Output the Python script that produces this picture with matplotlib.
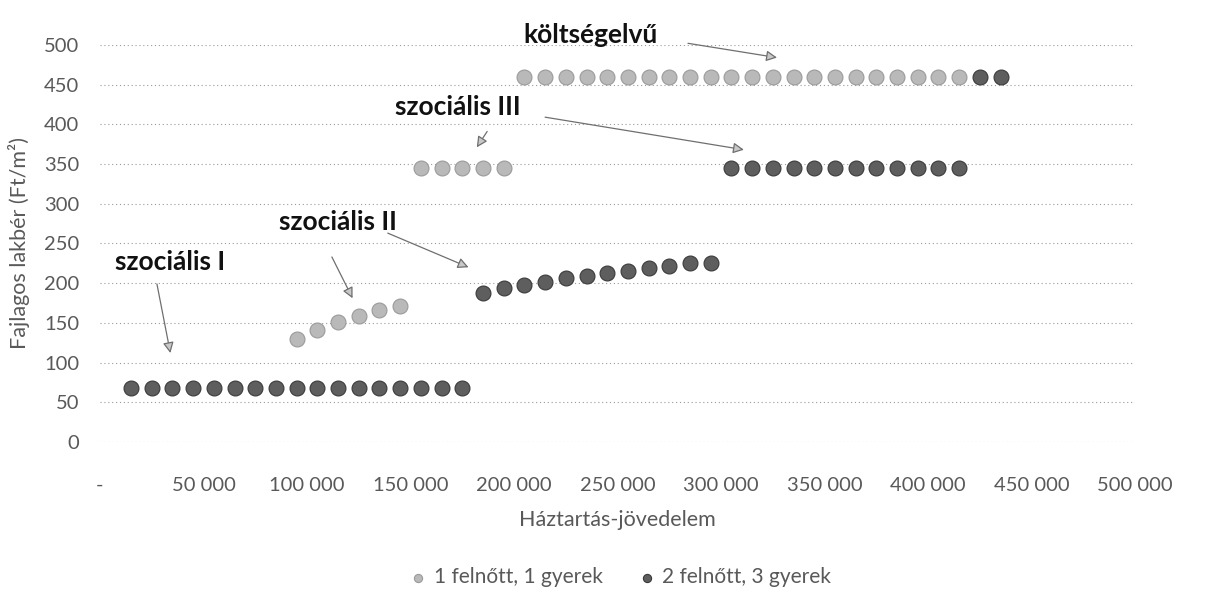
import matplotlib
matplotlib.use("Agg")
import matplotlib.pyplot as plt
from matplotlib.ticker import FuncFormatter

plt.rcParams['font.family'] = ['Lato', 'DejaVu Sans']

# --- adatok (leolvasva az ábráról) ---
series_names = ['1 felnőtt, 1 gyerek', '2 felnőtt, 3 gyerek']

# 1 felnőtt, 1 gyerek
inc_1 = [95000, 105000, 115000, 125000, 135000, 145000,
         155000, 165000, 175000, 185000, 195000,
         205000, 215000, 225000, 235000, 245000, 255000, 265000, 275000,
         285000, 295000, 305000, 315000, 325000, 335000, 345000, 355000,
         365000, 375000, 385000, 395000, 405000, 415000]
rent_1 = [130, 141, 151, 159, 166, 171,
          345, 345, 345, 345, 345,
          460, 460, 460, 460, 460, 460, 460, 460,
          460, 460, 460, 460, 460, 460, 460, 460,
          460, 460, 460, 460, 460, 460]

# 2 felnőtt, 3 gyerek
inc_2 = [15000, 25000, 35000, 45000, 55000, 65000, 75000, 85000, 95000,
         105000, 115000, 125000, 135000, 145000, 155000, 165000, 175000,
         185000, 195000, 205000, 215000, 225000, 235000, 245000, 255000,
         265000, 275000, 285000, 295000,
         305000, 315000, 325000, 335000, 345000, 355000, 365000, 375000,
         385000, 395000, 405000, 415000,
         425000, 435000]
rent_2 = [68, 68, 68, 68, 68, 68, 68, 68, 68,
          68, 68, 68, 68, 68, 68, 68, 68,
          188, 194, 198, 202, 207, 209, 213, 215, 219, 222, 225, 225,
          345, 345, 345, 345, 345, 345, 345, 345,
          345, 345, 345, 345,
          460, 460]

# feliratok: (szöveg, szöveg helye, nyíl kezdete és hegye)
labels = [
    ('költségelvű', (237000, 512), [((284000, 502), (327000, 484))]),
    ('szociális III', (173000, 422), [((187000, 391), (182000, 371)),
                                      ((215000, 409), (311000, 368))]),
    ('szociális II', (115000, 277), [((112000, 233), (122000, 181)),
                                     ((139000, 263), (178000, 220))]),
    ('szociális I', (34000, 227), [((27500, 199), (34000, 112))]),
]

fig = plt.figure(figsize=(12.15, 6.10), dpi=100)
ax = fig.add_axes([0.0823, 0.2754, 0.852, 0.651])

ax.scatter(inc_1, rent_1, s=115, color='#b9b9b9', edgecolor='#9a9a9a',
           linewidth=0.8, label=series_names[0], zorder=3)
ax.scatter(inc_2, rent_2, s=115, color='#5e5e5e', edgecolor='#3a3a3a',
           linewidth=0.8, label=series_names[1], zorder=4)

ax.set_xlim(0, 500000)
ax.set_ylim(0, 500)
ax.set_xticks(range(0, 500001, 50000))
ax.set_yticks(range(0, 501, 50))


def fmt_x(v, pos):
    if v == 0:
        return '-'
    return f'{int(v):,}'.replace(',', ' ')


ax.xaxis.set_major_formatter(FuncFormatter(fmt_x))

ax.grid(axis='y', linestyle=(0, (1, 2.5)), color='#9a9a9a', linewidth=0.8)
ax.set_axisbelow(True)
for sp in ax.spines.values():
    sp.set_visible(False)
ax.tick_params(axis='both', length=0, labelsize=14.5, colors='#595959')
ax.tick_params(axis='y', pad=15)
ax.tick_params(axis='x', pad=25)

ax.set_xlabel('Háztartás-jövedelem', fontsize=15.5, color='#595959', labelpad=12)
ax.set_ylabel('Fajlagos lakbér (Ft/m²)', fontsize=15.5, color='#595959', labelpad=10)

# nyilak és feliratok
for text, pos, arrows in labels:
    ax.text(pos[0], pos[1], text, fontsize=19, fontweight='bold',
            ha='center', va='center', color='#111111', clip_on=False)
    for start, tip in arrows:
        ax.annotate('', xy=tip, xytext=start, annotation_clip=False,
                    arrowprops=dict(arrowstyle='-|>', color='#6f6f6f', lw=0.9,
                                    mutation_scale=16, fc='#c8c8c8',
                                    shrinkA=0, shrinkB=0))

fig.legend(loc='center', bbox_to_anchor=(0.51, 0.054), ncol=2, frameon=False,
           fontsize=15, markerscale=0.55, handletextpad=0.25, handlelength=1.0,
           columnspacing=1.6, labelcolor='#595959')

fig.savefig('out.png', dpi=100)
